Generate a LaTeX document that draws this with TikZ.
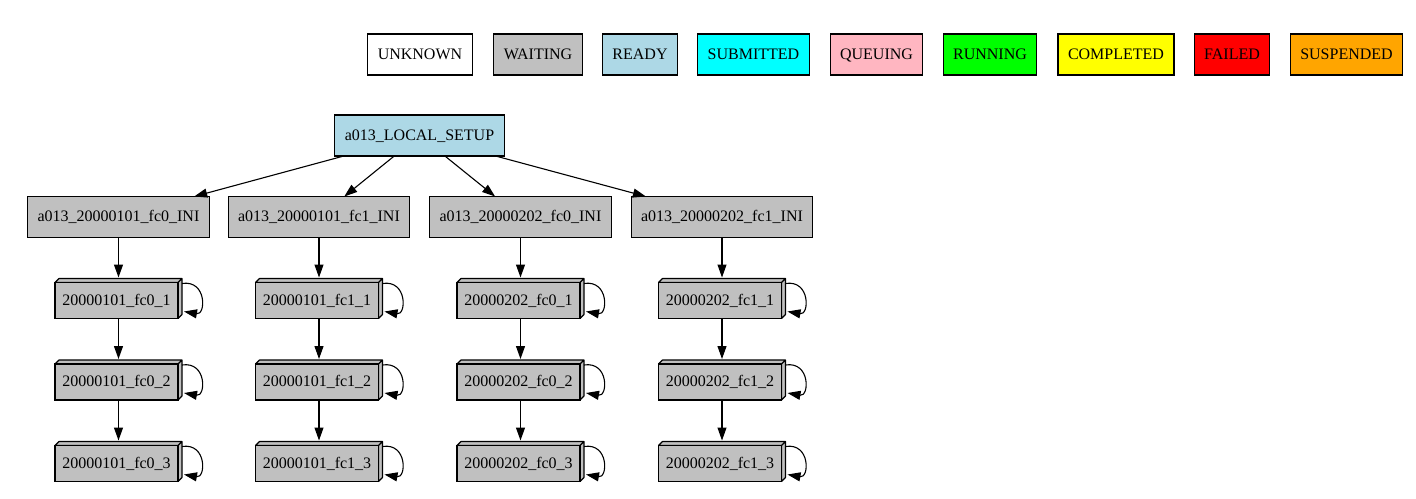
\documentclass[tikz,border=0pt]{standalone}
\usepackage{fontspec}
\setmainfont{Liberation Serif}
\usetikzlibrary{arrows.meta}

\definecolor{waitgray}{HTML}{C0C0C0}
\definecolor{readyblue}{HTML}{ADD8E6}
\definecolor{submitcyan}{HTML}{00FFFF}
\definecolor{queuepink}{HTML}{FFB6C1}
\definecolor{rungreen}{HTML}{00FF00}
\definecolor{doneyellow}{HTML}{FFFF00}
\definecolor{failred}{HTML}{FF0000}
\definecolor{suspendorange}{HTML}{FFA500}

\tikzset{
  state/.style={draw, line width=1.1pt, outer sep=0pt, inner xsep=10pt,
    minimum height=41pt, text height=12pt, text depth=2.5pt,
    font=\fontsize{16}{19}\selectfont},
  job/.style={draw, fill=waitgray, line width=1.1pt, outer sep=0pt, inner sep=0pt,
    minimum width=123pt, minimum height=36pt, text height=12pt, text depth=2.5pt,
    font=\fontsize{16}{19}\selectfont,
    append after command={\pgfextra{\draw[line width=1.1pt, fill=waitgray, line join=round]
      (\tikzlastnode.north west) -- ++(4,-4) -- ([shift={(4,-4)}]\tikzlastnode.north east)
      -- ([shift={(4,-4)}]\tikzlastnode.south east) -- (\tikzlastnode.south east)
      -- (\tikzlastnode.north east) -- cycle
      (\tikzlastnode.north east) -- ++(4,-4);}}},
  edge/.style={line width=1.1pt, -{Triangle[length=13pt, width=9pt]}}
}

\begin{document}
\begin{tikzpicture}[x=1pt, y=-1pt]
    \useasboundingbox (0,0) rectangle (1416,498);

    % Legend of the job states
    \foreach \lbl/\col/\x in {UNKNOWN/white/420, WAITING/waitgray/538, READY/readyblue/640,
        SUBMITTED/submitcyan/753.5, QUEUING/queuepink/876.5, RUNNING/rungreen/990,
        COMPLETED/doneyellow/1116, FAILED/failred/1232, SUSPENDED/suspendorange/1346.5}
      \node (\lbl) at (\x,54.5) [state, fill=\col] {\lbl};

    % The setup job
    \node (setup) at (419.5,135.5) [state, fill=readyblue] {a013\_LOCAL\_SETUP};

    % One column per start date and member
    \foreach \c/\dm/\x in {1/20000101\_fc0/118.5, 2/20000101\_fc1/319,
        3/20000202\_fc0/520.5, 4/20000202\_fc1/722} {
      \node (ini\c) at (\x,217) [state, fill=waitgray] {a013\_\dm\_INI};
      \draw[edge] (setup) -- (ini\c);
      \foreach \r/\y in {1/300.5, 2/382, 3/463.5}
        \node (j\c\r) at (\x-2,\y) [job] {\dm\_\r};
      \draw[edge] (ini\c.south) -- ([shift={(2,-5)}]j\c1.north);
      \draw[edge] ([xshift=2]j\c1.south) -- ([shift={(2,-5)}]j\c2.north);
      \draw[edge] ([xshift=2]j\c2.south) -- ([shift={(2,-5)}]j\c3.north);
      % self loops
      \foreach \r in {1,2,3}
        \draw[edge] ([shift={(4,1)}]j\c\r.north east) .. controls +(25,-4) and +(22,4)
          .. ([shift={(6,-7)}]j\c\r.south east);
    }
\end{tikzpicture}
\end{document}
